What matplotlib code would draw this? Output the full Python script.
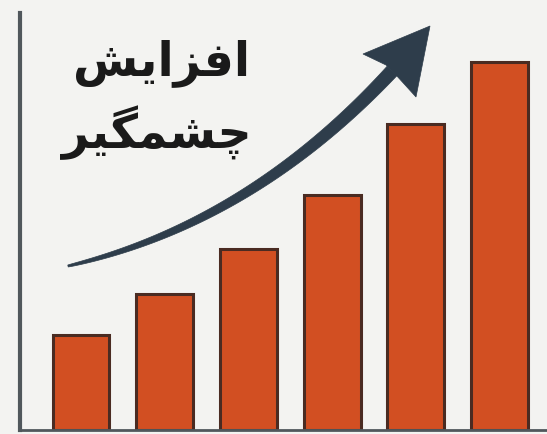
import matplotlib
matplotlib.use("Agg")
import matplotlib.pyplot as plt
import numpy as np
from matplotlib.patches import Polygon

# ---- data ----
categories = ["1", "2", "3", "4", "5", "6"]
values = [22.7, 32.7, 43.4, 56.3, 73.3, 88.3]
title_line1 = "افزایش"
title_line2 = "چشمگیر"
# presentation-form (visually ordered) versions for rendering without shaping
line1_visual = "\uFEB6\uFBFE\uFE8D\uFEB0\uFED3\uFE8D"
line2_visual = "\uFEAE\uFBFF\uFB95\uFEE4\uFEB8\uFB7C"

W, H = 547, 435
bg = "#f3f3f1"
bar_color = "#d24f22"
edge_color = "#4a2b22"
axis_color = "#50575c"
arrow_color = "#2e3d4b"

fig = plt.figure(figsize=(W / 100, H / 100), dpi=100, facecolor=bg)

# main axes: left spine at x=20px, bottom spine at y=431px, top at 13px
left_px, bottom_px, top_px = 20, 431, 14
ax = fig.add_axes([left_px / W, (H - bottom_px) / H, (W - left_px) / W, (bottom_px - top_px) / H])
ax.set_facecolor(bg)
x = np.arange(len(categories))
ax.bar(x, values, width=0.68, color=bar_color, edgecolor=edge_color, linewidth=2.2, zorder=2)
ax.set_xlim(-0.729, 5.567)
ax.set_ylim(0, 100)
for s in ["top", "right"]:
    ax.spines[s].set_visible(False)
ax.spines["left"].set_color(axis_color)
ax.spines["left"].set_linewidth(3)
ax.spines["bottom"].set_color(axis_color)
ax.spines["bottom"].set_linewidth(2)
ax.set_xticks([])
ax.set_yticks([])

# overlay axes in pixel coordinates for the decorative arrow and text
ov = fig.add_axes([0, 0, 1, 1], facecolor="none")
ov.set_xlim(0, W)
ov.set_ylim(H, 0)
ov.axis("off")

# curved tapered arrow (quadratic bezier)
P0 = np.array([68.0, 267.0])
C = np.array([250.0, 225.0])
P2 = np.array([392.0, 72.0])
t = np.linspace(0, 1, 120)
pts = ((1 - t) ** 2)[:, None] * P0 + (2 * t * (1 - t))[:, None] * C + (t ** 2)[:, None] * P2
d = (-2 * (1 - t))[:, None] * P0 + (2 - 4 * t)[:, None] * C + (2 * t)[:, None] * P2
d /= np.linalg.norm(d, axis=1)[:, None]
nrm = np.stack([-d[:, 1], d[:, 0]], axis=1)
wdt = 1.0 + 5.8 * t ** 0.7
upper = pts + nrm * wdt[:, None]
lower = pts - nrm * wdt[:, None]
shaft = np.vstack([upper, lower[::-1]])
ov.add_patch(Polygon(shaft, closed=True, facecolor=arrow_color, edgecolor=arrow_color, linewidth=0.5, zorder=5))
head = np.array([[430, 27], [416, 98], [396, 76], [386, 66], [363, 55]])
ov.add_patch(Polygon(head, closed=True, facecolor=arrow_color, edgecolor=arrow_color, linewidth=0.5, zorder=6))

# text
fs = 34
ov.text(162, 63, line1_visual, fontsize=fs, fontweight="bold", family=["DejaVu Sans"],
        ha="center", va="center", color="#1a1a1a", zorder=7)
ov.text(157, 133, line2_visual, fontsize=fs, fontweight="bold", family=["DejaVu Sans"],
        ha="center", va="center", color="#1a1a1a", zorder=7)

fig.savefig("out.png", dpi=100, facecolor=bg)
